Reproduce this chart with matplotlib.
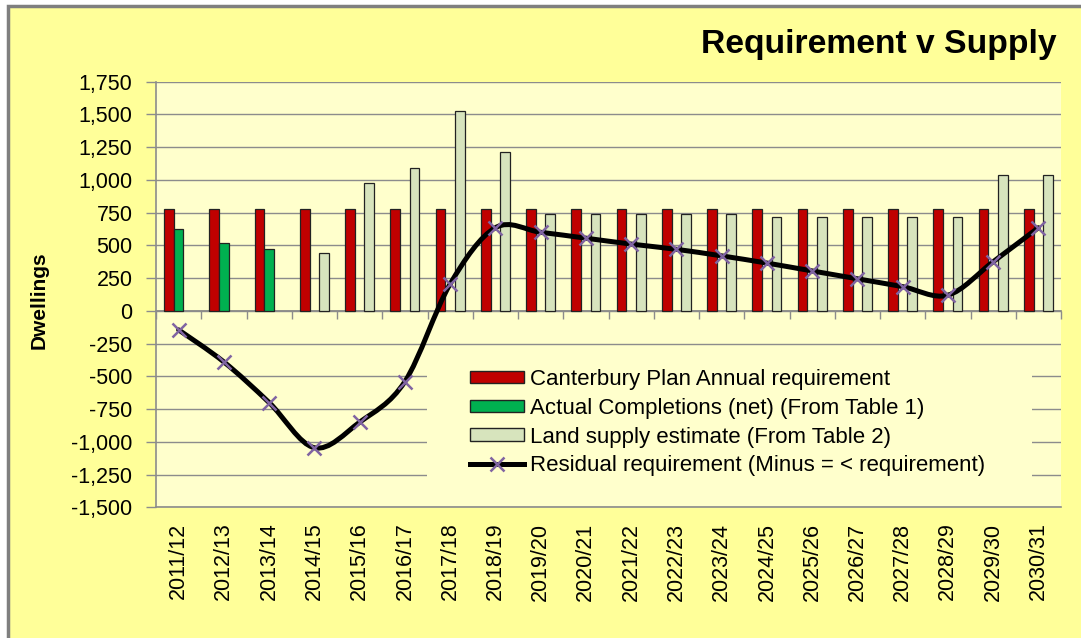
import numpy as np
import matplotlib
matplotlib.use("Agg")
import matplotlib.pyplot as plt
from matplotlib.path import Path
from matplotlib.patches import PathPatch, Rectangle, Patch
from matplotlib.lines import Line2D
from matplotlib.ticker import FuncFormatter, MultipleLocator

plt.rcParams['font.family'] = ['Liberation Sans', 'DejaVu Sans']

years = ['2011/12', '2012/13', '2013/14', '2014/15', '2015/16', '2016/17', '2017/18',
         '2018/19', '2019/20', '2020/21', '2021/22', '2022/23', '2023/24', '2024/25',
         '2025/26', '2026/27', '2027/28', '2028/29', '2029/30', '2030/31']
requirement = [780] * 20
completions = [625, 520, 470] + [np.nan] * 17
land_supply = [np.nan, np.nan, np.nan, 440, 980, 1090, 1525, 1215,
               740, 740, 740, 740, 740, 720, 720, 720, 720, 720, 1040, 1040]
residual = [-145, -390, -700, -1045, -850, -540, 205, 635, 600, 555,
            510, 470, 420, 365, 305, 245, 185, 120, 375, 635]

labels = ['Canterbury Plan Annual requirement',
          'Actual Completions (net) (From Table 1)',
          'Land supply estimate (From Table 2)',
          'Residual requirement (Minus = < requirement)']

RED = '#C00000'
GREEN = '#00B050'
LAND = '#D7E4BD'
PURPLE = '#8064A2'
CHART_BG = '#FFFF99'
PLOT_BG = '#FFFFCC'
GRID = '#8C8C8C'

W, H = 1081, 638
fig = plt.figure(figsize=(W / 100, H / 100), dpi=100)
fig.patch.set_facecolor('white')

# chart area with grey frame (runs off the right/bottom edge)
fig.patches.append(Rectangle((8 / W, -0.05), 1.1, (H - 6) / H + 0.05,
                             transform=fig.transFigure, facecolor=CHART_BG,
                             edgecolor='#7F7F7F', linewidth=2.5, zorder=-5))

ax = fig.add_axes([156 / W, 130.7 / H, 905 / W, 425.6 / H])
ax.set_facecolor(PLOT_BG)

x = np.arange(len(years))
bw = 0.215
ax.bar(x - bw, requirement, bw, color=RED, edgecolor='#222222', linewidth=0.9, zorder=3)
ax.bar(x, np.array(completions, float), bw, color=GREEN, edgecolor='#222222', linewidth=0.9, zorder=3)
ax.bar(x + bw, np.array(land_supply, float), bw, color=LAND, edgecolor='#222222', linewidth=0.9, zorder=3)

# smoothed residual line (Catmull-Rom -> cubic Bezier through the data points)
pts = np.column_stack([x, residual]).astype(float)
verts = [pts[0]]
codes = [Path.MOVETO]
n = len(pts)
for i in range(n - 1):
    p0 = pts[i - 1] if i > 0 else pts[i]
    p1, p2 = pts[i], pts[i + 1]
    p3 = pts[i + 2] if i + 2 < n else pts[i + 1]
    verts += [p1 + (p2 - p0) / 6, p2 - (p3 - p1) / 6, p2]
    codes += [Path.CURVE4] * 3
ax.add_patch(PathPatch(Path(verts, codes), facecolor='none', edgecolor='black',
                       linewidth=3.6, capstyle='round', zorder=4))
ax.plot(x, residual, linestyle='none', marker='x', markersize=9.5, mew=1.8,
        color=PURPLE, zorder=5)

ax.set_xlim(-0.5, len(years) - 0.5)
ax.set_ylim(-1500, 1750)
ax.yaxis.set_major_locator(MultipleLocator(250))
ax.yaxis.set_major_formatter(FuncFormatter(lambda v, p: f'{v:,.0f}'))
ax.grid(axis='y', color=GRID, linewidth=1.0, zorder=1)
ax.set_axisbelow(True)

ax.set_xticks(x)
ax.set_xticklabels(years, rotation=90)
ax.tick_params(axis='x', length=0, pad=11, labelsize=15.5)
ax.tick_params(axis='y', length=7, width=1, color=GRID, labelsize=15.5, pad=10)

for s in ['top', 'right']:
    ax.spines[s].set_visible(False)
ax.spines['left'].set_color(GRID)
ax.spines['bottom'].set_color(GRID)
ax.spines['left'].set_linewidth(1.2)
ax.spines['bottom'].set_linewidth(1.2)

# category axis crossing at zero, with boundary tick marks
zero_pos = (0 - (-1500)) / 3250
sec = ax.secondary_xaxis(zero_pos)
sec.set_xticks(np.arange(-0.5, len(years), 1.0))
sec.tick_params(axis='x', direction='out', length=6, width=1, color=GRID, labelbottom=False)
sec.spines['bottom'].set_color('#7F7F7F')
sec.spines['bottom'].set_linewidth(1.2)

fig.text(39 / W, (H - 300) / H, 'Dwellings', rotation=90, ha='center', va='center',
         fontsize=15, fontweight='bold')

# legend area covers the gridlines
ax.add_patch(Rectangle((0.2995, 0.052), 0.6685, 0.313, transform=ax.transAxes,
                       facecolor=PLOT_BG, edgecolor='none', zorder=2))
handles = [Patch(facecolor=RED, edgecolor='#222222'),
           Patch(facecolor=GREEN, edgecolor='#222222'),
           Patch(facecolor=LAND, edgecolor='#222222'),
           Line2D([], [], color='black', linewidth=3.6, marker='x', markersize=9.5,
                  mew=1.8, markeredgecolor=PURPLE)]
ax.legend(handles, labels, loc='upper left', bbox_to_anchor=(0.347, 0.325),
          frameon=False, fontsize=16, borderpad=0, borderaxespad=0,
          handlelength=2.43, handleheight=0.48, handletextpad=0.27,
          labelspacing=0.35, numpoints=1)

fig.text(1057 / W, (H - 53) / H, 'Requirement v Supply', ha='right', va='baseline',
         fontsize=24.2, fontweight='bold')

fig.savefig('out.png', dpi=100, facecolor=fig.get_facecolor())
